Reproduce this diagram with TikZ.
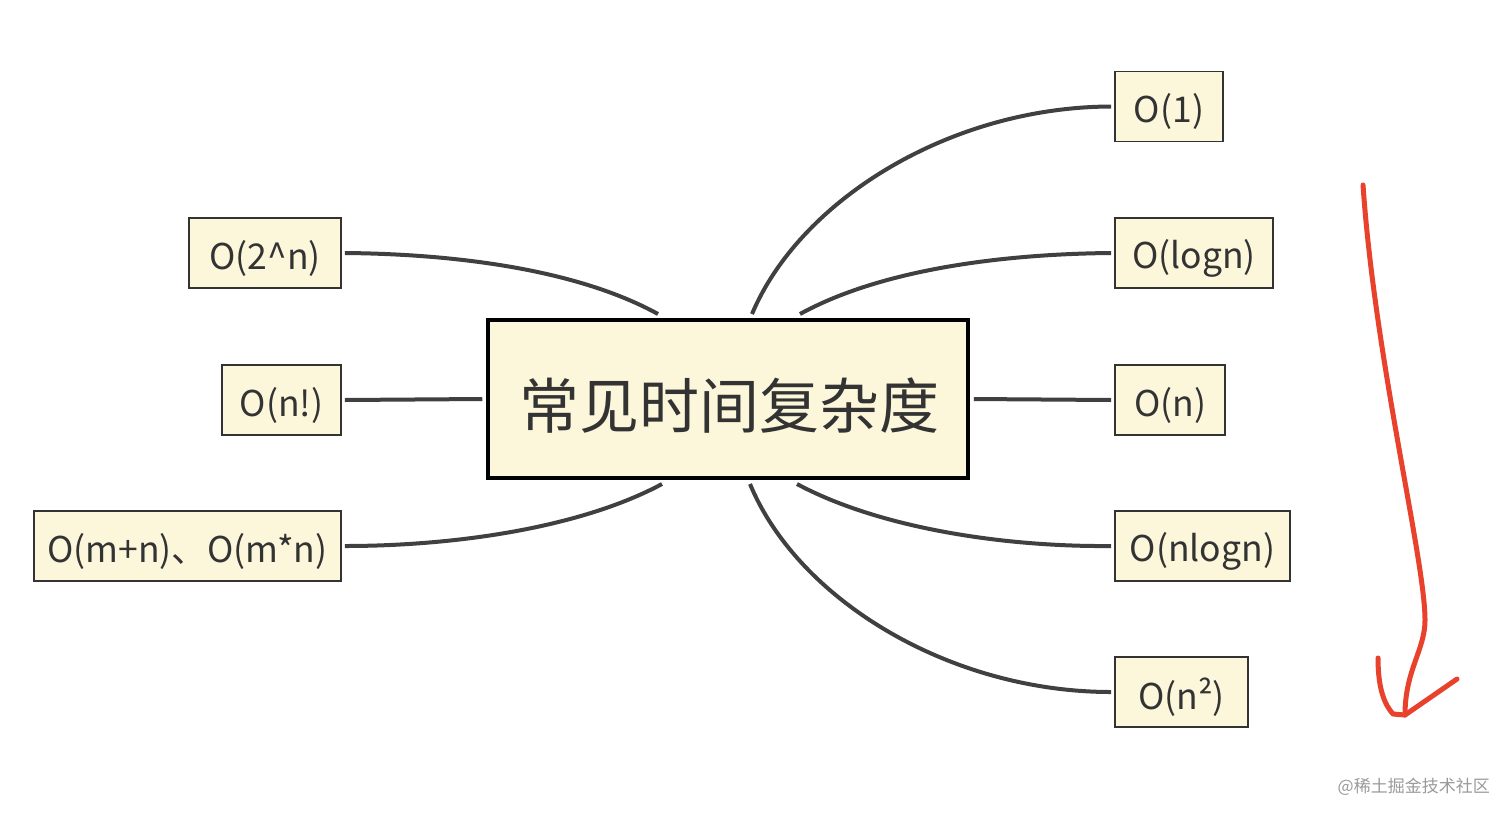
\documentclass[tikz,border=0pt]{standalone}
\usepackage{fontspec}
\setmainfont{Noto Sans CJK SC}
\definecolor{cream}{HTML}{FCF7DA}
\definecolor{linegray}{HTML}{404040}
\definecolor{boxedge}{HTML}{333333}
\definecolor{redpen}{HTML}{E8412C}
\definecolor{wm}{HTML}{9A9A9A}
\begin{document}
\begin{tikzpicture}[x=1pt,y=-1pt,
  leaf/.style={draw=boxedge,line width=1.6pt,fill=cream,minimum height=70pt,inner sep=0pt,
    font=\fontsize{35.5}{40}\selectfont,text=black!80},
  lbl/.style={inner sep=0pt,font=\fontsize{35.5}{40}\selectfont,text=black!80},
  centerbox/.style={draw=black,line width=3.5pt,fill=cream,minimum width=480pt,minimum height=158pt,
    inner sep=0pt},
  conn/.style={draw=linegray,line width=4pt}]
\useasboundingbox (0,0) rectangle (1512,820);
\fill[white] (0,0) rectangle (1512,820);
% center
\node[centerbox] (c) at (728,399) {};
\node[inner sep=0pt,font=\fontsize{60}{64}\selectfont,text=black!80] (ct) at (729,406) {常见时间复杂度};
% right leaves
\node[leaf,minimum width=108pt] (o1) at (1169,106.5) {};
\node[lbl] at ([yshift=-5pt]o1.center) {O(1)};
\node[leaf,minimum width=158pt] (olog) at (1194,253) {};
\node[lbl] at ([yshift=-5pt]olog.center) {O(logn)};
\node[leaf,minimum width=110pt] (on) at (1170,400) {};
\node[lbl] at ([yshift=-5pt]on.center) {O(n)};
\node[leaf,minimum width=175pt] (onlog) at (1202.5,546) {};
\node[lbl] at ([yshift=-5pt]onlog.center) {O(nlogn)};
\node[leaf,minimum width=133pt] (on2) at (1181.5,692) {};
\node[lbl] at ([yshift=-5pt]on2.center) {O(n²)};
% left leaves
\node[leaf,minimum width=152pt] (o2n) at (265,253) {};
\node[lbl] at ([yshift=-5pt]o2n.center) {O(2\^{}n)};
\node[leaf,minimum width=119pt] (ofac) at (281.5,400) {};
\node[lbl] at ([yshift=-5pt]ofac.center) {O(n!)};
\node[leaf,minimum width=307pt] (omn) at (187.5,546) {};
\node[lbl] at ([yshift=-5pt]omn.center) {O(m+n)、O(m*n)};
% anchor points on the center box
\coordinate (c1) at (752,314);
\coordinate (c2) at (800,314);
\coordinate (c3) at (658,314);
\coordinate (c4) at (797,484);
\coordinate (c5) at (750,484);
\coordinate (c6) at (662,484);
% connectors
\draw[conn] (c1) .. controls (800,200) and (950,107) .. ([xshift=-3pt]o1.west);
\draw[conn] (c2) .. controls (880,270) and (1000,254) .. ([xshift=-3pt]olog.west);
\draw[conn] ([xshift=4pt]c.east) -- ([xshift=-3pt]on.west);
\draw[conn] (c4) .. controls (877,527) and (1000,547) .. ([xshift=-3pt]onlog.west);
\draw[conn] (c5) .. controls (798,600) and (950,692) .. ([xshift=-3pt]on2.west);
\draw[conn] (c3) .. controls (578,270) and (458,254) .. ([xshift=3pt]o2n.east);
\draw[conn] ([xshift=-4pt]c.west) -- ([xshift=3pt]ofac.east);
\draw[conn] (c6) .. controls (582,527) and (458,546) .. ([xshift=3pt]omn.east);
% red hand-drawn arrow
\coordinate (rtop) at (1363,185);
\coordinate (rtip) at (1405,715);
\draw[redpen,line width=5pt,line cap=round,line join=round]
  (rtop) .. controls (1375,360) and (1425,560) .. (1425,620)
  .. controls (1425,650) and (1405,670) .. (rtip);
\draw[redpen,line width=5pt,line cap=round,line join=round]
  (1378,658) .. controls (1378,690) and (1385,705) .. (1393,714)
  -- (rtip) -- (1457,679);
% watermark
\node[text=wm,font=\fontsize{17}{20}\selectfont,anchor=east,inner sep=0pt] (wmk) at (1490,787) {@稀土掘金技术社区};
\end{tikzpicture}
\end{document}
